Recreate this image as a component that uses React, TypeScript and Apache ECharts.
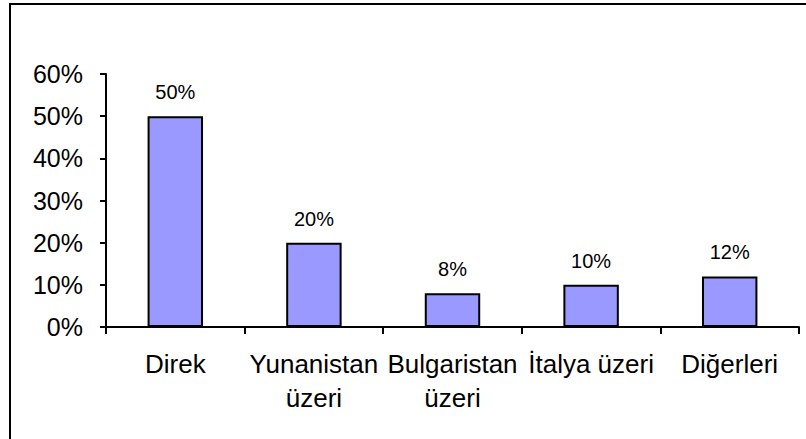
import React, { useEffect, useRef } from "react";
import * as echarts from "echarts";

const categories = ["Direk", "Yunanistan\nüzeri", "Bulgaristan\nüzeri", "İtalya üzeri", "Diğerleri"];
const values = [0.5, 0.2, 0.08, 0.1, 0.12];
const yTicks = { min: 0, max: 0.6, interval: 0.1 };

const FONT = "'Liberation Sans', Arial, sans-serif";

export default function App() {
  const ref = useRef<HTMLDivElement>(null);
  useEffect(() => {
    const chart = echarts.init(ref.current!, null, { renderer: "svg" });
    chart.setOption({
      animation: false,
      backgroundColor: "#ffffff",
      textStyle: { fontFamily: FONT, color: "#000" },
      grid: { left: 106, right: 7, top: 74, bottom: 112, containLabel: false },
      xAxis: {
        type: "category",
        data: categories,
        boundaryGap: true,
        axisLine: { lineStyle: { color: "#000", width: 2 } },
        axisTick: { show: true, length: 7, alignWithLabel: false, lineStyle: { color: "#000", width: 2 } },
        axisLabel: {
          interval: 0,
          margin: 20,
          fontSize: 26,
          lineHeight: 34,
          color: "#000",
          fontFamily: FONT,
        },
        splitLine: { show: false },
      },
      yAxis: {
        type: "value",
        min: yTicks.min,
        max: yTicks.max,
        interval: yTicks.interval,
        axisLine: { show: true, lineStyle: { color: "#000", width: 2 } },
        axisTick: { show: true, length: 6, lineStyle: { color: "#000", width: 2 } },
        axisLabel: {
          margin: 23,
          fontSize: 25,
          color: "#000",
          fontFamily: FONT,
          formatter: (v: number) => `${Math.round(v * 100)}%`,
        },
        splitLine: { show: false },
      },
      series: [
        {
          type: "bar",
          data: values,
          barWidth: "40%",
          itemStyle: { color: "#9999FF", borderColor: "#000", borderWidth: 2 },
          label: {
            show: true,
            position: "top",
            distance: 14,
            fontSize: 20,
            color: "#000",
            fontFamily: FONT,
            formatter: (p: any) => `${Math.round(p.value * 100)}%`,
          },
        },
      ],
      graphic: [
        { type: "line", shape: { x1: 9, y1: 4, x2: 806, y2: 4 }, style: { stroke: "#000", lineWidth: 2 } },
        { type: "line", shape: { x1: 10, y1: 4, x2: 10, y2: 439 }, style: { stroke: "#000", lineWidth: 2 } },
      ],
    });
    return () => chart.dispose();
  }, []);
  return (
    <div
      ref={ref}
      style={{ position: "absolute", left: 0, top: 0, width: 806, height: 439 }}
    />
  );
}
